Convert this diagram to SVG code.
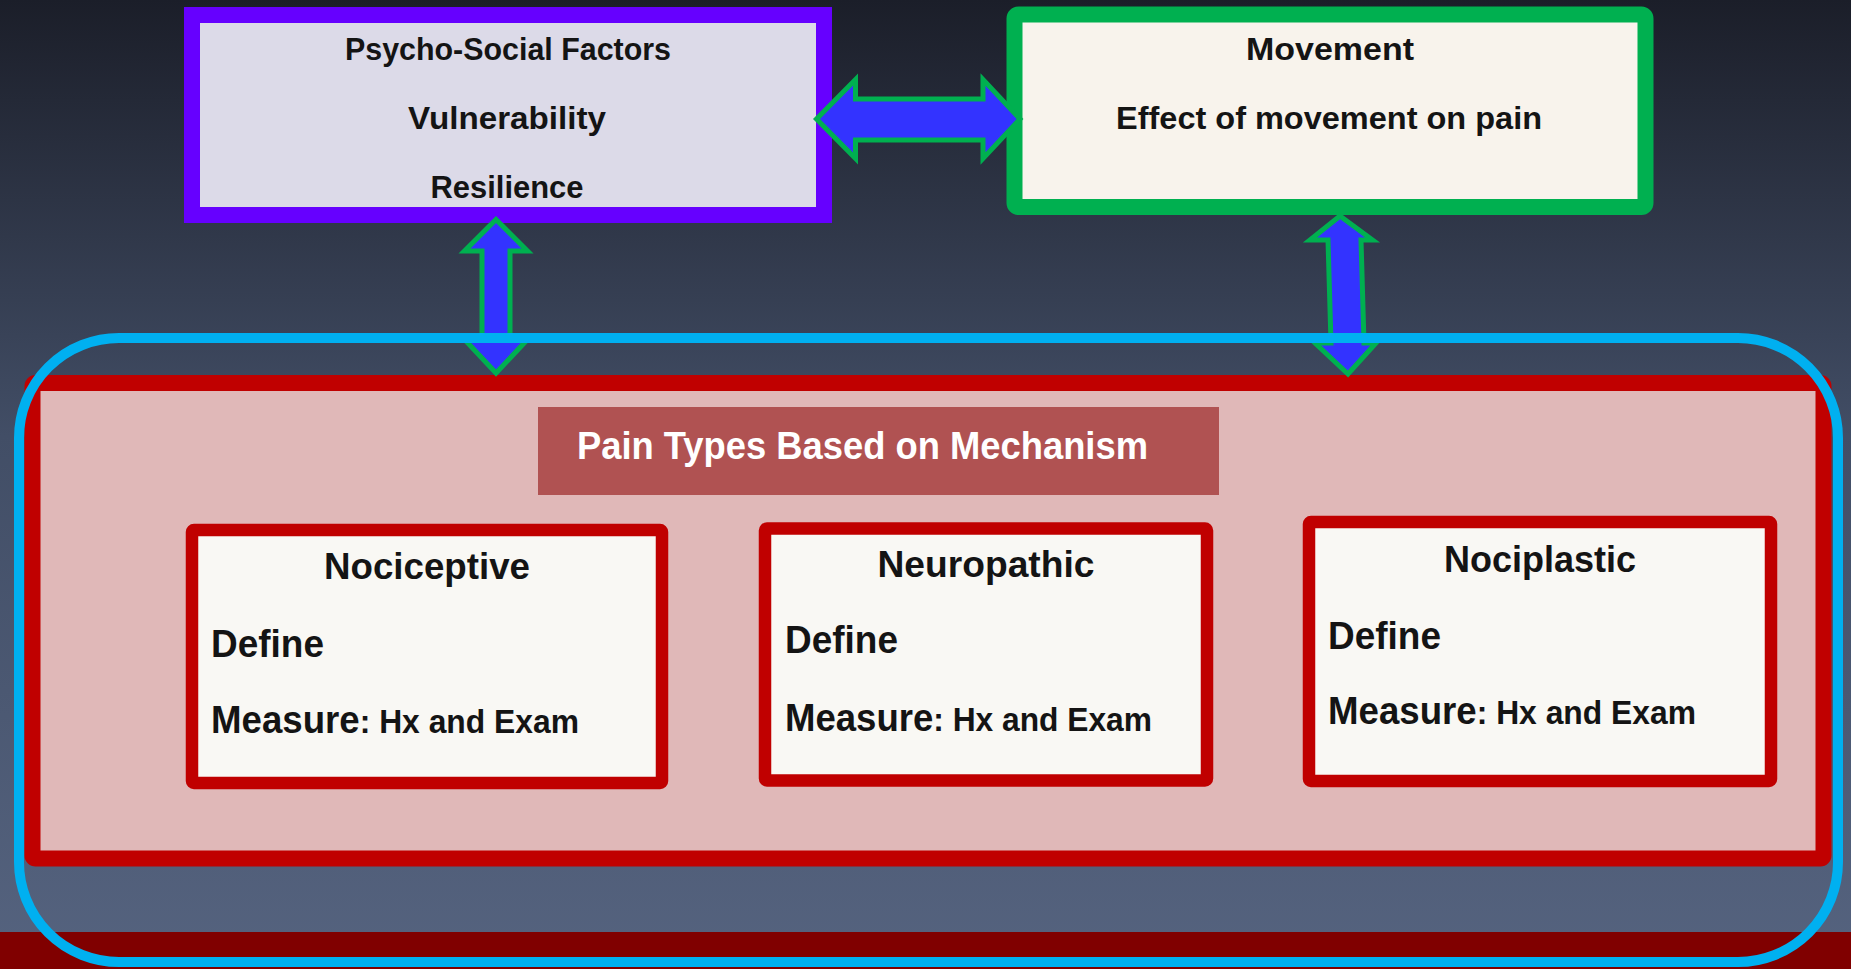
<svg xmlns="http://www.w3.org/2000/svg" width="1851" height="969" viewBox="0 0 1851 969">
<defs>
<linearGradient id="bg" x1="0" y1="0" x2="0" y2="1">
<stop offset="0" stop-color="#1b1e29"/>
<stop offset="0.45" stop-color="#424e66"/>
<stop offset="1" stop-color="#55637f"/>
</linearGradient>
<style>
text{font-family:"Liberation Sans",Arial,sans-serif;font-weight:bold;fill:#141414}
.arrow{fill:#3333ff;stroke:#00b050;stroke-width:5;stroke-linejoin:miter}
.type{fill:#f9f8f4;stroke:#c00000;stroke-width:12.5}
.h{font-size:36px;text-anchor:middle}
.b{font-size:38px}
.s{font-size:33px}
.top{font-size:32px;text-anchor:middle}
</style>
</defs>
<rect x="0" y="0" width="1851" height="969" fill="url(#bg)"/>
<rect x="0" y="932" width="1851" height="37" fill="#800000"/>

<g id="pain-container">
<rect x="32.5" y="383" width="1791" height="475.5" rx="3" fill="#e0b8b8" stroke="#c00000" stroke-width="16"/>
</g>

<g id="title">
<rect x="538" y="407" width="681" height="88" fill="#b05252"/>
<text x="577" y="459" font-size="38" textLength="571" lengthAdjust="spacingAndGlyphs" style="fill:#ffffff">Pain Types Based on Mechanism</text>
</g>

<g id="psychosocial">
<rect x="192" y="15" width="632" height="200" fill="#dcdae8" stroke="#6600ff" stroke-width="16"/>
<text class="top" x="508" y="60" textLength="326" lengthAdjust="spacingAndGlyphs">Psycho-Social Factors</text>
<text class="top" x="507" y="129" textLength="198" lengthAdjust="spacingAndGlyphs">Vulnerability</text>
<text class="top" x="507" y="198" textLength="153" lengthAdjust="spacingAndGlyphs">Resilience</text>
</g>

<g id="movement">
<rect x="1014.5" y="14.5" width="631" height="192.5" rx="4" fill="#f8f3ec" stroke="#00b050" stroke-width="16"/>
<text class="top" x="1330" y="60" textLength="168" lengthAdjust="spacingAndGlyphs">Movement</text>
<text class="top" x="1329" y="129" textLength="426" lengthAdjust="spacingAndGlyphs">Effect of movement on pain</text>
</g>

<g id="nociceptive">
<rect class="type" x="192" y="530" width="470" height="253" rx="2"/>
<text class="h" x="427" y="579" textLength="206" lengthAdjust="spacingAndGlyphs">Nociceptive</text>
<text class="b" x="211" y="657" textLength="113" lengthAdjust="spacingAndGlyphs">Define</text>
<text x="211" y="733" textLength="368" lengthAdjust="spacingAndGlyphs"><tspan class="b">Measure</tspan><tspan class="s">: Hx and Exam</tspan></text>
</g>

<g id="neuropathic">
<rect class="type" x="765" y="528.5" width="442" height="252" rx="2"/>
<text class="h" x="986" y="577" textLength="217" lengthAdjust="spacingAndGlyphs">Neuropathic</text>
<text class="b" x="785" y="653" textLength="113" lengthAdjust="spacingAndGlyphs">Define</text>
<text x="785" y="731" textLength="367" lengthAdjust="spacingAndGlyphs"><tspan class="b">Measure</tspan><tspan class="s">: Hx and Exam</tspan></text>
</g>

<g id="nociplastic">
<rect class="type" x="1309" y="522" width="462" height="259" rx="2"/>
<text class="h" x="1540" y="572" textLength="192" lengthAdjust="spacingAndGlyphs">Nociplastic</text>
<text class="b" x="1328" y="649" textLength="113" lengthAdjust="spacingAndGlyphs">Define</text>
<text x="1328" y="724" textLength="368" lengthAdjust="spacingAndGlyphs"><tspan class="b">Measure</tspan><tspan class="s">: Hx and Exam</tspan></text>
</g>

<g id="connectors">
<polygon class="arrow" points="816.5,119 855.5,79.5 855.5,99 983,99 983,79.5 1020,119 983,158.5 983,140 855.5,140 855.5,158.5"/>
<polygon class="arrow" points="496,219.5 527.5,251 510,251 510,340 527,340 496,373 465,340 482,340 482,251 464.5,251"/>
<polygon class="arrow" points="1340,216 1372.5,240 1361,240 1364,343 1376,343 1348,374 1315,343 1331,343 1328,240 1310,240"/>
</g>

<g id="scope-outline">
<rect x="19" y="338" width="1819" height="624" rx="100" ry="100" fill="none" stroke="#00b0f0" stroke-width="10"/>
</g>
</svg>
